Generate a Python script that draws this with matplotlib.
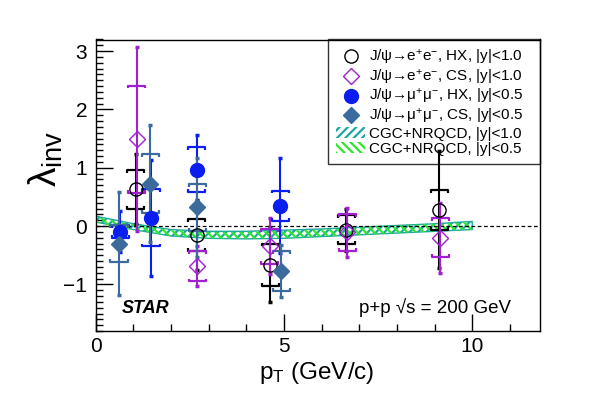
import matplotlib
matplotlib.use('Agg')
import matplotlib.pyplot as plt
from matplotlib.lines import Line2D
from matplotlib.patches import Patch
from matplotlib.ticker import MultipleLocator
import numpy as np

plt.rcParams['font.family'] = ['Liberation Sans', 'DejaVu Sans']
plt.rcParams['mathtext.fontset'] = 'custom'
plt.rcParams['mathtext.rm'] = 'Liberation Sans'
plt.rcParams['mathtext.it'] = 'Liberation Sans:italic'
plt.rcParams['hatch.linewidth'] = 1.6

# J/psi -> e+e-, HX, |y|<1.0
ee_hx_pt = [1.06, 2.68, 4.64, 6.66, 9.13]
ee_hx = [0.63, -0.15, -0.66, -0.06, 0.28]
ee_hx_stat = [0.60, 0.60, 0.65, 0.36, 1.00]
ee_hx_sys = [0.33, 0.27, 0.36, 0.25, 0.34]

# J/psi -> e+e-, CS, |y|<1.0
ee_cs_pt = [1.09, 2.70, 4.62, 6.68, 9.15]
ee_cs = [1.49, -0.69, -0.35, -0.11, -0.20]
ee_cs_stat = [1.58, 0.34, 0.48, 0.42, 0.60]
ee_cs_sys = [0.92, 0.26, 0.30, 0.32, 0.33]

# J/psi -> mu+mu-, HX, |y|<0.5
mm_hx_pt = [0.65, 1.47, 2.68, 4.90]
mm_hx = [-0.10, 0.14, 0.97, 0.35]
mm_hx_stat = [0.35, 0.99, 0.60, 0.81]
mm_hx_sys = [0.11, 0.49, 0.38, 0.26]

# J/psi -> mu+mu-, CS, |y|<0.5
mm_cs_pt = [0.62, 1.45, 2.70, 4.93]
mm_cs = [-0.30, 0.73, 0.32, -0.77]
mm_cs_stat = [0.88, 1.00, 0.85, 0.45]
mm_cs_sys = [0.31, 0.50, 0.40, 0.34]

# CGC+NRQCD bands
cgc_pt = [0, 1, 2, 3, 4, 5, 6, 7, 8, 9, 10]
cgc10_lo = [0.07, -0.06, -0.17, -0.21, -0.22, -0.21, -0.18, -0.15, -0.12, -0.09, -0.06]
cgc10_hi = [0.17, 0.04, -0.06, -0.09, -0.09, -0.07, -0.05, -0.02, 0.01, 0.04, 0.08]
cgc05_lo = [0.06, -0.07, -0.17, -0.21, -0.22, -0.21, -0.18, -0.15, -0.12, -0.09, -0.06]
cgc05_hi = [0.16, 0.03, -0.07, -0.10, -0.10, -0.08, -0.06, -0.03, 0.01, 0.04, 0.07]

BLACK = 'black'
VIOLET = '#a21fd0'
BLUE = '#0a1ef0'
STEEL = '#3b6a9c'
TEAL = '#1fa8a0'
GREEN = '#2ee82e'


def draw_sys(ax, x, y, s, color, w=0.23, h=0.05):
    for xi, yi, si in zip(x, y, s):
        for yy, d in ((yi + si, -h), (yi - si, h)):
            ax.plot([xi - w, xi - w, xi + w, xi + w], [yy + d, yy, yy, yy + d],
                    color=color, lw=1.6, zorder=4, solid_capstyle='butt')


def draw_series(ax, x, y, stat, sys, color, marker, mfc, ms):
    ax.errorbar(x, y, yerr=stat, fmt='none', ecolor=color, elinewidth=1.5,
                capsize=1.2, capthick=2.5, zorder=4)
    draw_sys(ax, x, y, sys, color)
    ax.plot(x, y, ls='none', marker=marker, ms=ms, mfc=mfc, mec=color,
            mew=1.0, zorder=5)


fig = plt.figure(figsize=(6.0, 3.95), dpi=100)
ax = fig.add_axes([0.1595, 0.162, 0.7405, 0.738])

ax.fill_between(cgc_pt, cgc10_lo, cgc10_hi, facecolor='none', edgecolor=TEAL,
                hatch='////', lw=1.0, zorder=2)
ax.fill_between(cgc_pt, cgc05_lo, cgc05_hi, facecolor='none', edgecolor=GREEN,
                hatch='\\\\\\\\', lw=0.0, zorder=2)
ax.axhline(0, color='black', ls=(0, (3, 2)), lw=0.9, zorder=3)

draw_series(ax, ee_hx_pt, ee_hx, ee_hx_stat, ee_hx_sys, BLACK, 'o', 'none', 9.5)
draw_series(ax, ee_cs_pt, ee_cs, ee_cs_stat, ee_cs_sys, VIOLET, 'D', 'none', 8.5)
draw_series(ax, mm_hx_pt, mm_hx, mm_hx_stat, mm_hx_sys, BLUE, 'o', BLUE, 10)
draw_series(ax, mm_cs_pt, mm_cs, mm_cs_stat, mm_cs_sys, STEEL, 'D', STEEL, 8.5)

ax.set_xlim(0, 11.8)
ax.set_ylim(-1.8, 3.2)
ax.xaxis.set_major_locator(MultipleLocator(5))
ax.xaxis.set_minor_locator(MultipleLocator(1))
ax.yaxis.set_major_locator(MultipleLocator(1))
ax.yaxis.set_minor_locator(MultipleLocator(0.1))
ax.tick_params(which='both', direction='in', top=False, right=False, labelsize=15)
ax.tick_params(which='major', length=12, width=1.0)
ax.tick_params(which='minor', length=5, width=1.0)
ax.tick_params(axis='y', pad=6)
ax.tick_params(axis='x', pad=4)
for sp in ax.spines.values():
    sp.set_linewidth(1.0)

ax.set_ylabel(r'λ$_{\mathrm{inv}}$', fontsize=28)
ax.yaxis.set_label_coords(-0.07, 0.59)
ax.set_xlabel(r'p$_{\mathrm{T}}$ (GeV/c)', fontsize=17.5)
ax.xaxis.set_label_coords(0.497, -0.1)

ax.text(0.7, -1.41, 'STAR', fontsize=13, fontweight='bold', fontstyle='italic',
        va='center', ha='left')
ax.text(7.0, -1.40, 'p+p √s = 200 GeV', fontsize=13.5, va='center', ha='left')

handles = [
    Line2D([], [], ls='none', marker='o', ms=9.5, mfc='none', mec=BLACK),
    Line2D([], [], ls='none', marker='D', ms=8.5, mfc='none', mec=VIOLET),
    Line2D([], [], ls='none', marker='o', ms=10, mfc=BLUE, mec=BLUE),
    Line2D([], [], ls='none', marker='D', ms=8.5, mfc=STEEL, mec=STEEL),
    Patch(facecolor='none', edgecolor=TEAL, hatch='////', lw=0),
    Patch(facecolor='none', edgecolor=GREEN, hatch='\\\\\\\\', lw=0),
]
labels = [
    r'J/ψ→e$^{+}$e$^{-}$, HX, |y|<1.0',
    r'J/ψ→e$^{+}$e$^{-}$, CS, |y|<1.0',
    r'J/ψ→μ$^{+}$μ$^{-}$, HX, |y|<0.5',
    r'J/ψ→μ$^{+}$μ$^{-}$, CS, |y|<0.5',
    'CGC+NRQCD, |y|<1.0',
    'CGC+NRQCD, |y|<0.5',
]
leg = ax.legend(handles, labels, loc='upper left', bbox_to_anchor=(0.523, 0.0, 0.477, 1.0),
                mode='expand', borderaxespad=0, fontsize=11, frameon=True, fancybox=False,
                edgecolor='black', facecolor='none', labelspacing=0.05, handlelength=1.85,
                handletextpad=0.28, borderpad=0.55)
leg.get_frame().set_linewidth(1.0)
leg.set_zorder(3.5)

fig.savefig('out.png', dpi=100)
